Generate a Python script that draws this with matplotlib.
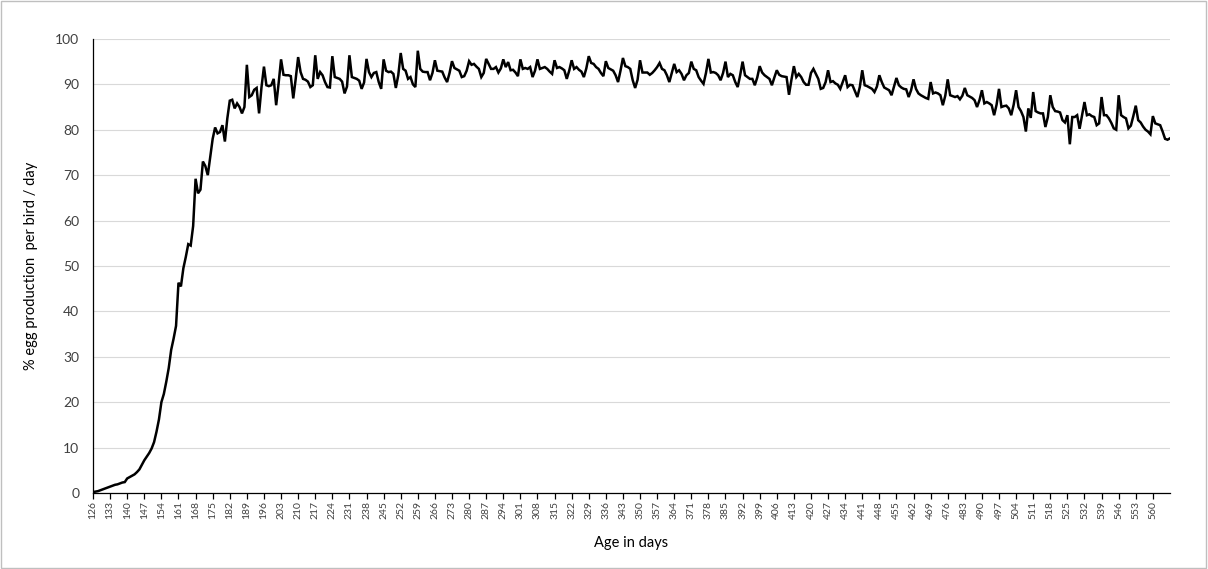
import numpy as np
import matplotlib
matplotlib.use("Agg")
import matplotlib.pyplot as plt
from matplotlib.patches import Rectangle

plt.rcParams['font.family'] = ['Lato', 'DejaVu Sans']

# daily egg production (%), one row per week, first row starts at day 126
week_rows = [
    [0.2, 0.3, 0.4, 0.6, 0.8, 1.0, 1.2],
    [1.4, 1.6, 1.8, 1.9, 2.1, 2.3, 2.4],
    [3.2, 3.5, 3.8, 4.1, 4.6, 5.2, 6.2],
    [7.2, 8.0, 8.8, 9.8, 11.2, 13.5, 16.2],
    [20.0, 21.8, 24.5, 27.5, 31.5, 34.0, 36.8],
    [46.3, 45.5, 49.5, 52.0, 54.8, 54.5, 58.8],
    [69.2, 66.0, 66.8, 73.0, 72.0, 70.0, 74.0],
    [78.0, 80.5, 79.2, 79.5, 81.0, 77.4, 82.5],
    [86.4, 86.6, 84.7, 85.8, 85.0, 83.6, 85.0],
    [94.3, 87.2, 87.6, 88.8, 89.2, 83.6, 89.4],
    [93.9, 89.8, 89.6, 89.8, 91.2, 85.4, 90.2],
    [95.5, 92.1, 92.0, 92.0, 91.8, 86.9, 91.2],
    [96.0, 92.7, 91.2, 91.0, 90.6, 89.4, 89.8],
    [96.4, 91.2, 92.7, 92.0, 90.5, 89.4, 89.3],
    [96.2, 91.6, 91.4, 91.2, 90.6, 88.0, 89.5],
    [96.4, 91.6, 91.4, 91.2, 90.8, 89.0, 90.4],
    [95.6, 92.7, 91.6, 92.5, 92.7, 90.5, 89.0],
    [95.5, 93.0, 92.7, 92.8, 92.3, 89.2, 92.0],
    [96.9, 93.4, 93.0, 91.2, 91.6, 90.0, 89.4],
    [97.4, 93.4, 92.8, 92.7, 92.7, 90.9, 92.5],
    [95.3, 93.0, 92.9, 92.8, 91.5, 90.5, 92.5],
    [95.1, 93.6, 93.3, 93.0, 91.6, 91.8, 93.0],
    [95.1, 94.3, 94.5, 93.9, 93.4, 91.6, 92.5],
    [95.6, 94.5, 93.4, 93.4, 93.8, 92.6, 93.5],
    [95.5, 93.8, 94.9, 93.1, 93.2, 92.6, 91.8],
    [95.5, 93.4, 93.6, 93.4, 93.8, 91.6, 93.0],
    [95.5, 93.4, 93.6, 93.8, 93.4, 92.8, 92.3],
    [95.3, 93.6, 93.8, 93.5, 93.1, 91.2, 93.0],
    [95.3, 93.4, 93.8, 93.2, 92.8, 91.6, 93.5],
    [96.2, 94.7, 94.5, 93.8, 93.4, 92.5, 91.8],
    [95.1, 93.6, 93.3, 93.0, 92.0, 90.5, 93.0],
    [95.8, 94.0, 93.8, 93.4, 90.9, 89.2, 91.0],
    [95.3, 92.6, 92.6, 92.6, 92.1, 92.5, 93.1],
    [93.8, 94.7, 93.4, 93.1, 92.0, 90.5, 92.5],
    [94.5, 92.7, 93.1, 92.3, 90.9, 92.0, 92.5],
    [95.0, 93.4, 93.1, 91.6, 90.8, 90.1, 92.5],
    [95.6, 92.6, 92.7, 92.5, 92.0, 90.9, 92.5],
    [95.0, 91.6, 92.3, 92.0, 90.5, 89.4, 92.0],
    [95.0, 92.0, 91.6, 91.2, 91.2, 89.8, 91.5],
    [94.0, 92.6, 92.0, 91.6, 91.2, 89.8, 91.5],
    [93.1, 92.1, 91.8, 91.7, 91.6, 87.7, 91.0],
    [94.0, 91.6, 92.3, 91.6, 90.5, 89.9, 89.9],
    [92.5, 93.4, 92.3, 91.2, 89.0, 89.2, 90.5],
    [93.1, 90.5, 90.7, 90.2, 89.9, 89.0, 90.5],
    [92.0, 89.4, 89.9, 89.8, 88.5, 87.2, 89.4],
    [93.1, 89.8, 89.6, 89.3, 89.0, 88.3, 89.5],
    [92.0, 90.5, 89.3, 89.0, 88.7, 87.6, 89.5],
    [91.4, 89.8, 89.3, 89.0, 88.9, 87.2, 88.7],
    [91.1, 89.0, 88.0, 87.6, 87.3, 87.0, 86.8],
    [90.5, 88.0, 88.2, 88.0, 87.6, 85.4, 87.5],
    [91.1, 87.6, 87.4, 87.2, 87.4, 86.7, 87.5],
    [89.2, 87.6, 87.3, 87.0, 86.5, 85.0, 86.5],
    [88.7, 85.8, 86.1, 85.8, 85.4, 83.2, 85.5],
    [89.0, 85.0, 85.2, 85.3, 84.7, 83.2, 85.5],
    [88.7, 85.0, 84.1, 82.8, 79.6, 84.7, 82.6],
    [88.3, 84.1, 83.8, 83.6, 83.6, 80.6, 82.8],
    [87.6, 85.0, 84.1, 84.0, 83.8, 82.1, 81.6],
    [83.2, 76.8, 82.8, 82.8, 83.2, 80.2, 83.2],
    [86.1, 83.2, 83.4, 83.0, 82.8, 81.0, 81.4],
    [87.2, 83.2, 83.2, 82.5, 81.5, 80.3, 80.0],
    [87.6, 83.2, 82.8, 82.5, 80.3, 80.9, 83.0],
    [85.3, 82.1, 81.6, 80.7, 80.0, 79.6, 79.0],
    [83.0, 81.4, 81.2, 81.0, 79.6, 78.0, 77.8],
    [78.1],
]

first_day = 126
last_tick_day = 560
production = [v for row in week_rows for v in row]
days = np.arange(first_day, first_day + len(production))
tick_days = np.arange(first_day, last_tick_day + 1, 7)
y_ticks = np.arange(0, 101, 10)

fig = plt.figure(figsize=(12.08, 5.69), dpi=100)
fig.patches.append(Rectangle((0.001, 0.002), 0.997, 0.996, transform=fig.transFigure,
                             fill=False, edgecolor='#bfbfbf', linewidth=1))
ax = fig.add_axes([0.077, 0.1336, 0.8915, 0.798])

ax.plot(days, production, color='black', linewidth=1.8, solid_joinstyle='miter')

ax.set_xlim(days[0], days[-1])
ax.set_ylim(0, 100)
ax.set_xticks(tick_days)
ax.set_xticklabels([str(d) for d in tick_days], rotation=90, fontsize=7.5, color='#404040')
ax.set_yticks(y_ticks)
ax.set_yticklabels([str(v) for v in y_ticks], fontsize=10, color='#404040')

ax.grid(axis='y', color='#d9d9d9', linewidth=0.8)
ax.set_axisbelow(True)
for side in ['top', 'right']:
    ax.spines[side].set_visible(False)
ax.spines['left'].set_color('black')
ax.spines['bottom'].set_color('black')
ax.spines['left'].set_linewidth(0.9)
ax.spines['bottom'].set_linewidth(0.9)
ax.tick_params(axis='y', length=0, pad=10)
ax.tick_params(axis='x', direction='out', length=4, width=0.9, pad=2)

ax.set_xlabel('Age in days', fontsize=10.5, labelpad=12)
ax.set_ylabel('% egg production  per bird / day', fontsize=10.5, labelpad=12)

fig.savefig('out.png', dpi=100)
